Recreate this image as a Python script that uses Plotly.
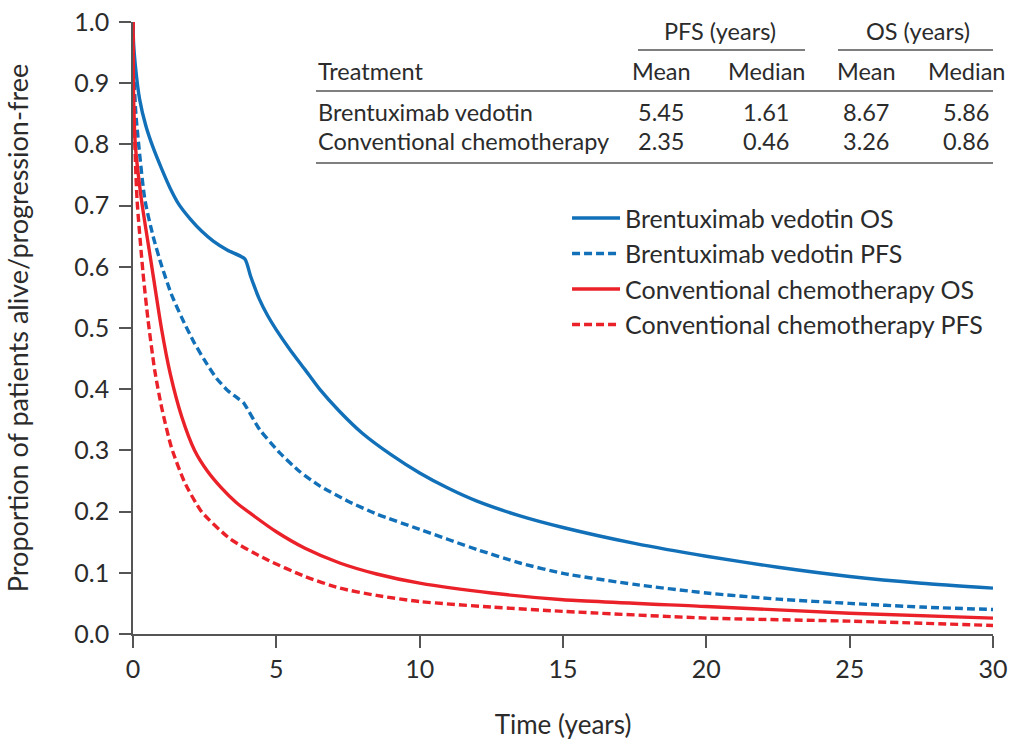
import plotly.graph_objects as go

# ---- data ----
bv_os_t = [0, 0.02, 0.08, 0.23, 0.45, 0.70, 1.0, 1.3, 1.6, 2.0, 2.4, 2.8, 3.3, 3.9, 4.1, 4.4, 4.7, 5.0, 5.47, 6.0, 6.51, 7.2, 8, 9, 10, 11, 12, 13.5, 15, 17.5, 20, 22.5, 25, 27.5, 30]
bv_os_v = [1.0, 0.965, 0.93, 0.874, 0.83, 0.795, 0.76, 0.728, 0.702, 0.678, 0.658, 0.642, 0.627, 0.613, 0.585, 0.548, 0.52, 0.497, 0.465, 0.432, 0.40, 0.364, 0.328, 0.293, 0.263, 0.238, 0.217, 0.193, 0.174, 0.148, 0.127, 0.109, 0.094, 0.083, 0.075]

bv_pfs_t = [0, 0.02, 0.1, 0.41, 0.7, 0.99, 1.34, 1.7, 2.1, 2.5, 2.91, 3.3, 3.66, 3.85, 4.42, 5.12, 5.8, 6.51, 7.5, 8.5, 10, 12, 13.5, 15, 17.5, 20, 22.5, 25, 27.5, 30]
bv_pfs_v = [1.0, 0.93, 0.85, 0.711, 0.65, 0.603, 0.555, 0.517, 0.479, 0.447, 0.418, 0.398, 0.385, 0.378, 0.334, 0.296, 0.266, 0.242, 0.217, 0.196, 0.171, 0.138, 0.116, 0.099, 0.081, 0.067, 0.057, 0.050, 0.044, 0.040]

cc_os_t = [0, 0.02, 0.08, 0.29, 0.64, 0.99, 1.3, 1.7, 2.15, 2.6, 3.1, 3.6, 4.1, 5, 6, 7.21, 8.5, 10, 12.5, 15, 20, 25, 30]
cc_os_v = [1.0, 0.88, 0.80, 0.711, 0.605, 0.50, 0.425, 0.355, 0.30, 0.266, 0.238, 0.215, 0.197, 0.167, 0.14, 0.116, 0.098, 0.083, 0.067, 0.056, 0.045, 0.034, 0.026]

cc_pfs_t = [0, 0.02, 0.14, 0.35, 0.52, 0.76, 1.0, 1.34, 1.8, 2.39, 3.4, 4.65, 6, 7.21, 8.5, 10, 12.5, 15, 20, 25, 30]
cc_pfs_v = [1.0, 0.87, 0.711, 0.59, 0.515, 0.43, 0.37, 0.305, 0.248, 0.20, 0.155, 0.122, 0.094, 0.075, 0.063, 0.053, 0.044, 0.037, 0.026, 0.021, 0.014]

series_names = ["Brentuximab vedotin OS", "Brentuximab vedotin PFS",
                "Conventional chemotherapy OS", "Conventional chemotherapy PFS"]

table_treatments = ["Brentuximab vedotin", "Conventional chemotherapy"]
pfs_mean = ["5.45", "2.35"]
pfs_median = ["1.61", "0.46"]
os_mean = ["8.67", "3.26"]
os_median = ["5.86", "0.86"]

x_ticks = [0, 5, 10, 15, 20, 25, 30]
y_ticks = [0.0, 0.1, 0.2, 0.3, 0.4, 0.5, 0.6, 0.7, 0.8, 0.9, 1.0]

BLUE = "#1170b8"
RED = "#eb2129"
TXT = "#2b2b2b"
AX = "#555555"
FONT = "Lato"
DASH = "8px,4px"

fig = go.Figure()
specs = [
    (bv_os_t, bv_os_v, BLUE, "solid"),
    (bv_pfs_t, bv_pfs_v, BLUE, DASH),
    (cc_os_t, cc_os_v, RED, "solid"),
    (cc_pfs_t, cc_pfs_v, RED, DASH),
]
for name, (t, v, c, d) in zip(series_names, specs):
    fig.add_trace(go.Scatter(x=t, y=v, mode="lines", name=name, legendgroup=name,
                             line=dict(color=c, width=3.4, dash=d, shape="spline", smoothing=0.6)))

# ---- table as annotations (data coordinates; screen pixel helpers) ----
L, W, T, H = 133.0, 860.0, 22.0, 612.0
def dx(px):
    return (px - L) / W * 30
def dy(py):
    return (T + H - py) / H * 1.0

def txt(px, py, s, anchor="center", size=23.5):
    fig.add_annotation(x=dx(px), y=dy(py), text=s, showarrow=False, xanchor=anchor, yanchor="middle",
                       font=dict(family=FONT, size=size, color=TXT), xref="x", yref="y")

txt(720, 31, "PFS (years)")
txt(918, 31, "OS (years)")
txt(316, 71, "Treatment", "left")
col_x = [661, 766, 866, 966]
for cx, s in zip(col_x, ["Mean", "Median", "Mean", "Median"]):
    txt(cx, 71, s)
row_y = [112, 141]
for i, ry in enumerate(row_y):
    txt(316, ry, table_treatments[i], "left")
    for cx, vals in zip(col_x, [pfs_mean, pfs_median, os_mean, os_median]):
        txt(cx, ry, vals[i])

def hline(x0, x1, py):
    fig.add_shape(type="line", xref="x", yref="y", x0=dx(x0), x1=dx(x1), y0=dy(py), y1=dy(py),
                  line=dict(color=AX, width=1.5))
hline(638, 805, 50)
hline(838, 1003, 50)
hline(316, 1005, 91)
hline(316, 1005, 163)

fig.update_layout(
    width=1009, height=740,
    margin=dict(l=133, r=16, t=22, b=106),
    plot_bgcolor="white", paper_bgcolor="white",
    font=dict(family=FONT, size=25, color=TXT),
    legend=dict(x=0.5047, y=0.717, xanchor="left", yanchor="top", bgcolor="rgba(0,0,0,0)",
                font=dict(family=FONT, size=25, color=TXT), tracegroupgap=0, itemwidth=48),
    xaxis=dict(range=[0, 30], tickvals=x_ticks, ticks="outside", ticklen=12, tickcolor=AX, tickwidth=1.5,
               showline=True, linecolor=AX, linewidth=1.5, showgrid=False, zeroline=False,
               automargin=False, ticklabeloverflow="allow",
               tickfont=dict(family=FONT, size=25, color=TXT),
               title=dict(text="Time (years)", standoff=37, font=dict(family=FONT, size=26, color=TXT))),
    yaxis=dict(range=[0, 1.0], tickvals=y_ticks, tickformat=".1f", ticks="outside", ticklen=12,
               tickcolor=AX, tickwidth=1.5, showline=True, linecolor=AX, linewidth=1.5, showgrid=False,
               zeroline=False, automargin=False, ticklabelstandoff=5, ticklabeloverflow="allow",
               tickfont=dict(family=FONT, size=25, color=TXT),
               title=dict(text="Proportion of patients alive/progression-free", standoff=38,
                          font=dict(family=FONT, size=27, color=TXT))),
)

fig.write_html("out.html", config={"displayModeBar": False},
               post_script="document.body.style.margin='0';")
